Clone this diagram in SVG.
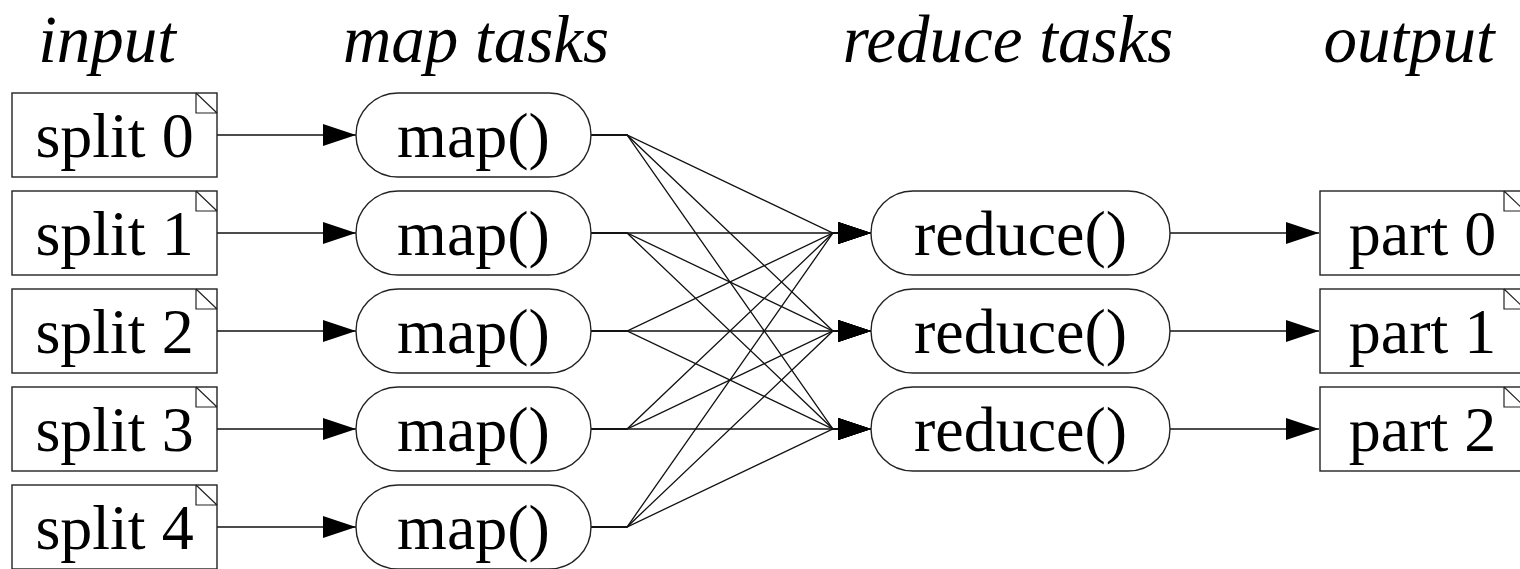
<svg xmlns="http://www.w3.org/2000/svg" width="1520" height="569" viewBox="0 0 1520 569">
<defs>
<style>
.box{fill:#fff;stroke:#222;stroke-width:1.4}
.ear{fill:none;stroke:#222;stroke-width:1.2}
.lbl{font-family:"Liberation Serif","Times New Roman",serif;font-size:64px;fill:#000;text-anchor:middle}
.ttl{font-family:"Liberation Serif","Times New Roman",serif;font-size:67px;font-style:italic;fill:#000;text-anchor:middle}
.edge{fill:none;stroke:#111;stroke-width:1.3;marker-end:url(#ah)}
.fan{fill:none;stroke:#111;stroke-width:1.1}
</style>
<marker id="ah" markerUnits="userSpaceOnUse" markerWidth="34" markerHeight="22" refX="33" refY="11" orient="auto">
<path d="M0,0 L33,11 L0,22 z" fill="#000"/>
</marker>
</defs>
<rect width="1520" height="569" fill="#fff"/>
<g id="titles">
<text class="ttl" x="107" y="62">input</text>
<text class="ttl" x="476" y="62">map tasks</text>
<text class="ttl" x="1008" y="62">reduce tasks</text>
<text class="ttl" x="1409" y="62">output</text>
</g>
<g id="connectors">
<path class="edge" d="M217,135 H356"/>
<path class="edge" d="M217,233 H356"/>
<path class="edge" d="M217,331 H356"/>
<path class="edge" d="M217,429 H356"/>
<path class="edge" d="M217,527 H356"/>
<path class="edge" d="M591,135 H627 L833,233 H871"/>
<path class="edge" d="M591,135 H627 L833,331 H871"/>
<path class="edge" d="M591,135 H627 L833,429 H871"/>
<path class="edge" d="M591,233 H627 L833,233 H871"/>
<path class="edge" d="M591,233 H627 L833,331 H871"/>
<path class="edge" d="M591,233 H627 L833,429 H871"/>
<path class="edge" d="M591,331 H627 L833,233 H871"/>
<path class="edge" d="M591,331 H627 L833,331 H871"/>
<path class="edge" d="M591,331 H627 L833,429 H871"/>
<path class="edge" d="M591,429 H627 L833,233 H871"/>
<path class="edge" d="M591,429 H627 L833,331 H871"/>
<path class="edge" d="M591,429 H627 L833,429 H871"/>
<path class="edge" d="M591,527 H627 L833,233 H871"/>
<path class="edge" d="M591,527 H627 L833,331 H871"/>
<path class="edge" d="M591,527 H627 L833,429 H871"/>
<path class="edge" d="M1170,233 H1319"/>
<path class="edge" d="M1170,331 H1319"/>
<path class="edge" d="M1170,429 H1319"/>
</g>
<g id="split0"><rect class="box" x="12" y="93" width="205" height="84"/><path class="ear" d="M196,93 V113 H217 M196,93 L217,113"/><text class="lbl" x="114.5" y="157">split 0</text></g>
<g id="split1"><rect class="box" x="12" y="191" width="205" height="84"/><path class="ear" d="M196,191 V211 H217 M196,191 L217,211"/><text class="lbl" x="114.5" y="255">split 1</text></g>
<g id="split2"><rect class="box" x="12" y="289" width="205" height="84"/><path class="ear" d="M196,289 V309 H217 M196,289 L217,309"/><text class="lbl" x="114.5" y="353">split 2</text></g>
<g id="split3"><rect class="box" x="12" y="387" width="205" height="84"/><path class="ear" d="M196,387 V407 H217 M196,387 L217,407"/><text class="lbl" x="114.5" y="451">split 3</text></g>
<g id="split4"><rect class="box" x="12" y="485" width="205" height="84"/><path class="ear" d="M196,485 V505 H217 M196,485 L217,505"/><text class="lbl" x="114.5" y="549">split 4</text></g>
<g id="map0"><rect class="box" x="356" y="93" width="235" height="84" rx="42"/><text class="lbl" x="473.5" y="157">map()</text></g>
<g id="map1"><rect class="box" x="356" y="191" width="235" height="84" rx="42"/><text class="lbl" x="473.5" y="255">map()</text></g>
<g id="map2"><rect class="box" x="356" y="289" width="235" height="84" rx="42"/><text class="lbl" x="473.5" y="353">map()</text></g>
<g id="map3"><rect class="box" x="356" y="387" width="235" height="84" rx="42"/><text class="lbl" x="473.5" y="451">map()</text></g>
<g id="map4"><rect class="box" x="356" y="485" width="235" height="84" rx="42"/><text class="lbl" x="473.5" y="549">map()</text></g>
<g id="reduce0"><rect class="box" x="871" y="191" width="299" height="84" rx="42"/><text class="lbl" x="1020.5" y="255">reduce()</text></g>
<g id="reduce1"><rect class="box" x="871" y="289" width="299" height="84" rx="42"/><text class="lbl" x="1020.5" y="353">reduce()</text></g>
<g id="reduce2"><rect class="box" x="871" y="387" width="299" height="84" rx="42"/><text class="lbl" x="1020.5" y="451">reduce()</text></g>
<g id="part0"><rect class="box" x="1320" y="191" width="205" height="84"/><path class="ear" d="M1504,191 V211 H1525 M1504,191 L1525,211"/><text class="lbl" x="1422.5" y="255">part 0</text></g>
<g id="part1"><rect class="box" x="1320" y="289" width="205" height="84"/><path class="ear" d="M1504,289 V309 H1525 M1504,289 L1525,309"/><text class="lbl" x="1422.5" y="353">part 1</text></g>
<g id="part2"><rect class="box" x="1320" y="387" width="205" height="84"/><path class="ear" d="M1504,387 V407 H1525 M1504,387 L1525,407"/><text class="lbl" x="1422.5" y="451">part 2</text></g>
</svg>
